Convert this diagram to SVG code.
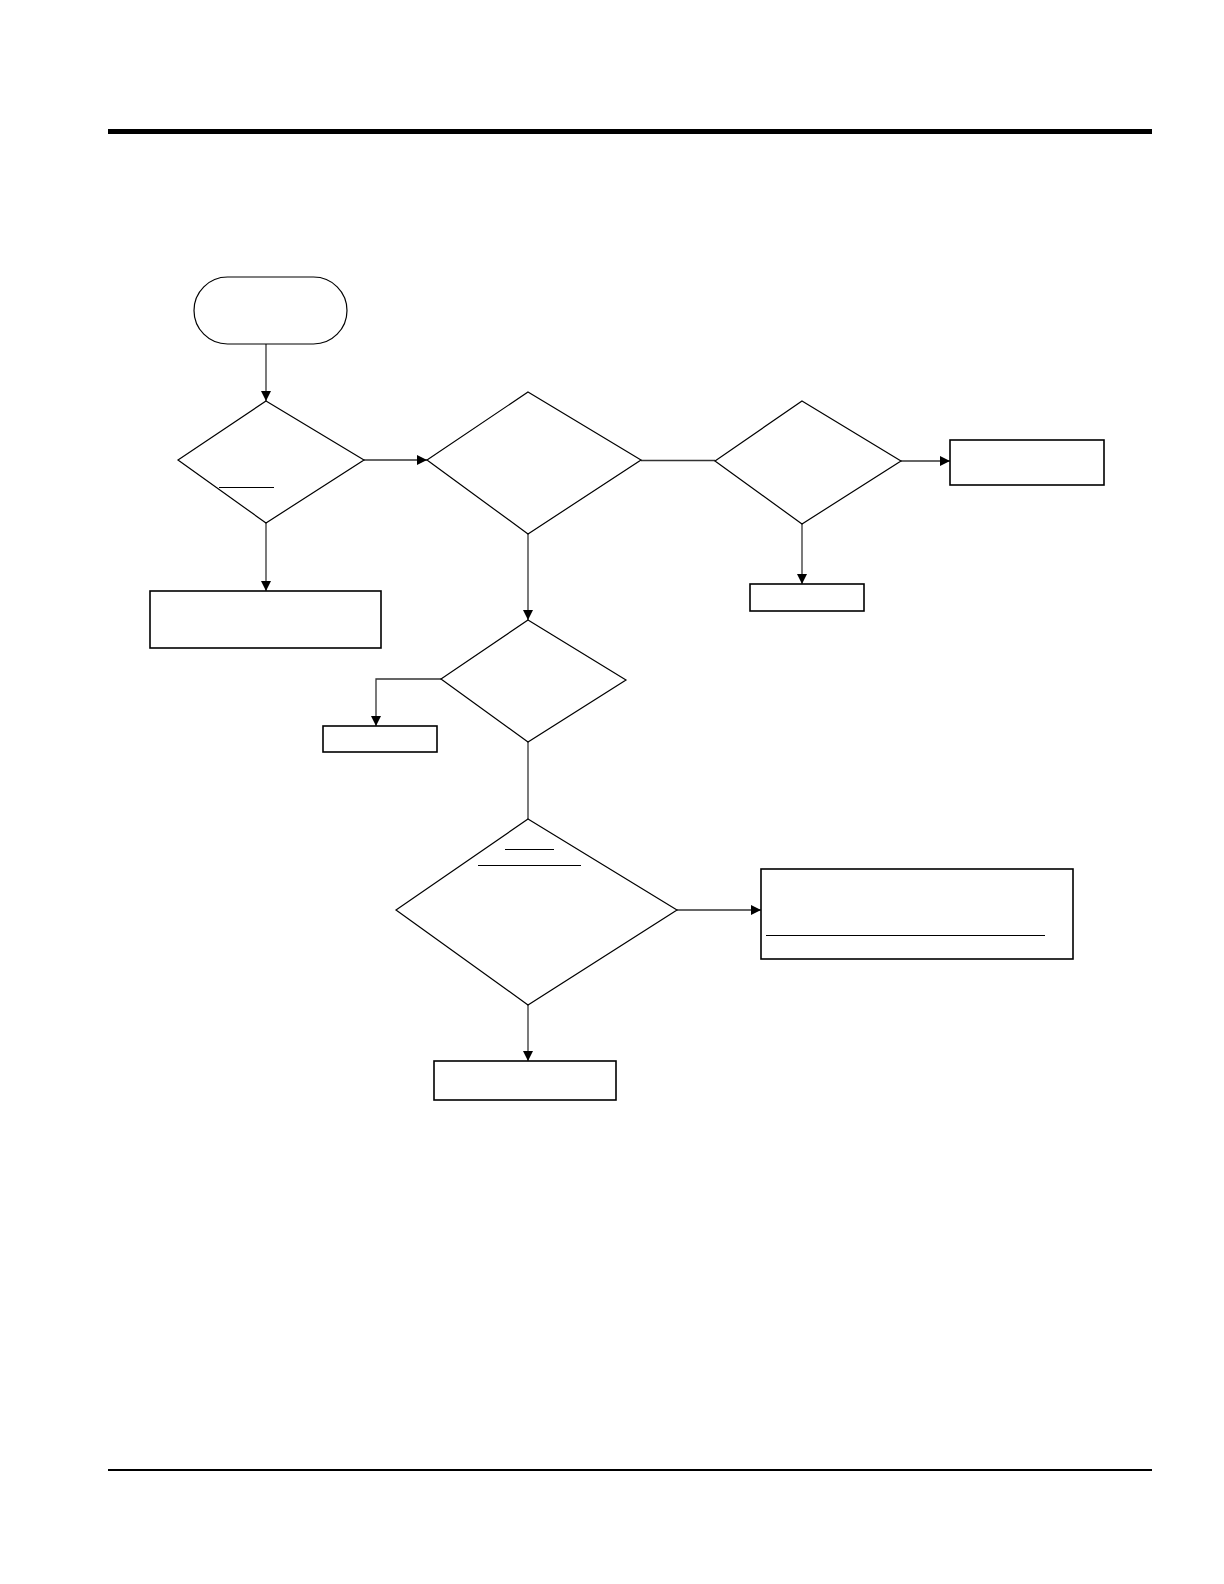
<svg xmlns="http://www.w3.org/2000/svg" width="1224" height="1584" viewBox="0 0 1224 1584">
<style>
.shape{fill:#fff;stroke:#000;stroke-width:1.2}
.box{fill:#fff;stroke:#000;stroke-width:1.6}
.conn{fill:none;stroke:#333;stroke-width:1.3}
.ul{stroke:#000;stroke-width:1.2}
</style>
<defs>
<marker id="arr" viewBox="0 0 10 10" refX="10" refY="5" markerWidth="10" markerHeight="10" markerUnits="userSpaceOnUse" orient="auto">
<path d="M0,0 L10,5 L0,10 z" fill="#000"/>
</marker>
</defs>
<rect x="108" y="129" width="1044" height="5" fill="#000"/>
<rect x="108" y="1469" width="1044" height="2" fill="#000"/>
<g id="connectors">
<line class="conn" x1="266" y1="344" x2="266" y2="401" marker-end="url(#arr)"/>
<line class="conn" x1="364" y1="460" x2="427" y2="460" marker-end="url(#arr)"/>
<line class="conn" x1="641" y1="460.5" x2="715" y2="460.5"/>
<line class="conn" x1="901" y1="461" x2="950" y2="461" marker-end="url(#arr)"/>
<line class="conn" x1="802" y1="524" x2="802" y2="584" marker-end="url(#arr)"/>
<line class="conn" x1="266" y1="523" x2="266" y2="591" marker-end="url(#arr)"/>
<line class="conn" x1="528" y1="534" x2="528" y2="620" marker-end="url(#arr)"/>
<polyline class="conn" points="441,679 376,679 376,726" marker-end="url(#arr)"/>
<line class="conn" x1="528" y1="742" x2="528" y2="819"/>
<line class="conn" x1="677" y1="910" x2="761" y2="910" marker-end="url(#arr)"/>
<line class="conn" x1="528" y1="1005" x2="528" y2="1061" marker-end="url(#arr)"/>
</g>
<g id="start"><rect class="shape" x="194" y="277" width="153" height="67" rx="33.5" ry="33.5"/></g>
<g id="decision1"><polygon class="shape" points="266,401 364,460 266,523 178,460"/><line class="ul" x1="219" y1="487.5" x2="274" y2="487.5"/></g>
<g id="decision2"><polygon class="shape" points="528,392 641,460 528,534 427,460"/></g>
<g id="decision3"><polygon class="shape" points="802,401 901,461 802,524 715,461"/></g>
<g id="box-right-top"><rect class="box" x="950" y="440" width="154" height="45"/></g>
<g id="box-d3-bottom"><rect class="box" x="750" y="584" width="114" height="27"/></g>
<g id="box-left"><rect class="box" x="150" y="591" width="231" height="57"/></g>
<g id="decision4"><polygon class="shape" points="528,620 626,680 528,742 441,679"/></g>
<g id="box-d4-left"><rect class="box" x="323" y="726" width="114" height="26"/></g>
<g id="decision5"><polygon class="shape" points="528,819 677,910 528,1005 396,910"/><line class="ul" x1="505" y1="849.5" x2="554" y2="849.5"/><line class="ul" x1="478" y1="865.5" x2="581" y2="865.5"/></g>
<g id="box-d5-right"><rect class="box" x="761" y="869" width="312" height="90"/><line class="ul" x1="766" y1="935.5" x2="1045" y2="935.5" stroke-width="1.6"/></g>
<g id="box-d5-bottom"><rect class="box" x="434" y="1061" width="182" height="39"/></g>
</svg>
